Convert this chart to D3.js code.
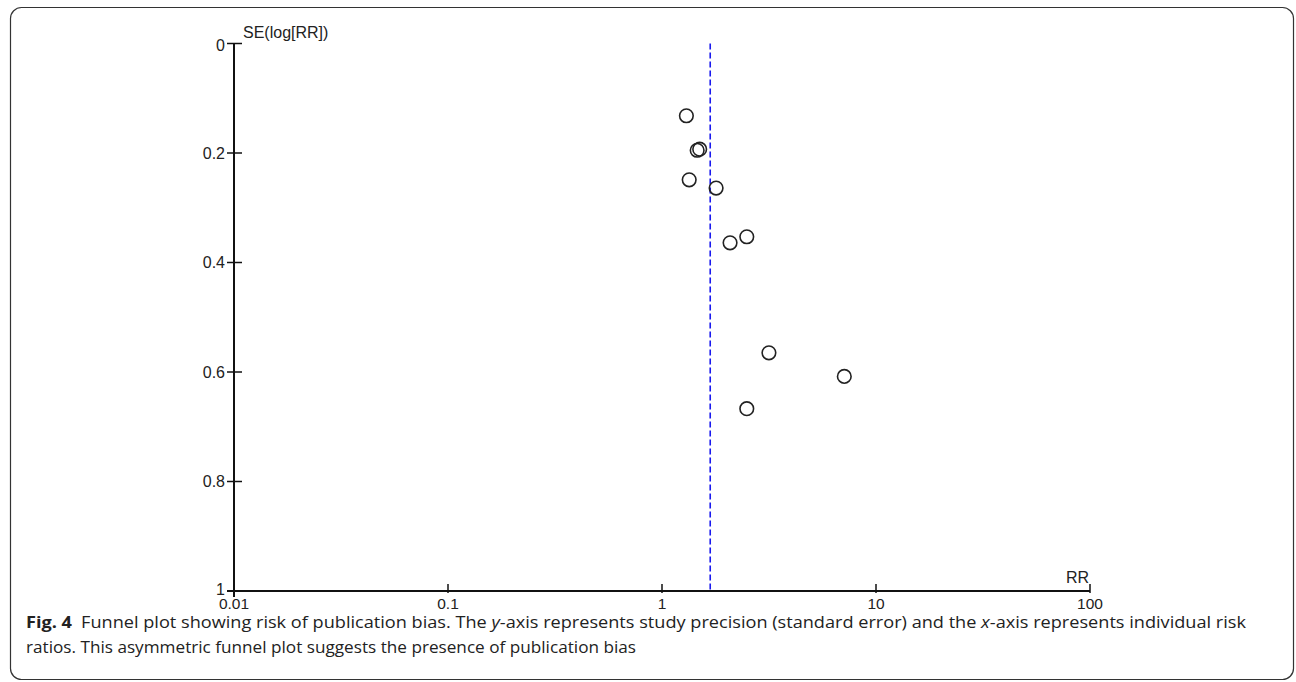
<!DOCTYPE html>
<html>
<head>
<meta charset="utf-8">
<script src="https://cdn.jsdelivr.net/npm/d3@7"></script>
<style>
  body { margin: 0; background: #fff; }
  svg { display: block; }
</style>
</head>
<body>
<svg id="chart" width="1296" height="682"></svg>
<script>
// study estimates
var rrValues = [1.30, 1.46, 1.50, 1.34, 1.79, 2.08, 2.49, 3.16, 7.11, 2.49];
var seValues = [0.132, 0.195, 0.193, 0.249, 0.264, 0.364, 0.353, 0.565, 0.608, 0.667];
var pooledRR = 1.68;

var xTicks = [0.01, 0.1, 1, 10, 100];
var xTickLabels = ["0.01", "0.1", "1", "10", "100"];
var yTicks = [0, 0.2, 0.4, 0.6, 0.8, 1];
var yTickLabels = ["0", "0.2", "0.4", "0.6", "0.8", "1"];

var points = rrValues.map(function(d, i) { return {rr: d, se: seValues[i]}; });

var svg = d3.select("#chart");
var axisFont = "'Liberation Sans', Arial, sans-serif";

var xs = d3.scaleLog().base(10).domain([0.01, 100]).range([234, 1090]);
var ys = d3.scaleLinear().domain([0, 1]).range([43.5, 591]);

// frame around figure + caption
svg.append("rect")
    .attr("x", 10.5).attr("y", 7.5)
    .attr("width", 1283).attr("height", 672)
    .attr("rx", 11).attr("ry", 11)
    .attr("fill", "none")
    .attr("stroke", "#333")
    .attr("stroke-width", 1.2);

var plot = svg.append("g");

// y axis
plot.append("line")
    .attr("x1", xs(0.01)).attr("x2", xs(0.01))
    .attr("y1", ys(0)).attr("y2", ys(1) + 6)
    .attr("stroke", "#111").attr("stroke-width", 2);

plot.selectAll(".ytick")
    .data(yTicks)
    .enter()
    .append("line")
        .attr("x1", xs(0.01) - 7).attr("x2", xs(0.01) + 8)
        .attr("y1", d => ys(d)).attr("y2", d => ys(d))
        .attr("stroke", "#111").attr("stroke-width", 1.5);

// first/last label nudged a little like the original (keeps "1" clear of "0.01")
plot.selectAll(".ylab")
    .data(yTicks)
    .enter()
    .append("text")
        .attr("x", xs(0.01) - 9)
        .attr("y", d => ys(d) + (d == 0 ? 2 : d == 1 ? -2 : 0))
        .attr("dy", "0.36em")
        .attr("text-anchor", "end")
        .style("font-family", axisFont)
        .style("font-size", "16px")
        .attr("fill", "#222")
        .text((d, i) => yTickLabels[i]);

// x axis
plot.append("line")
    .attr("x1", xs(0.01) - 7).attr("x2", xs(100))
    .attr("y1", ys(1)).attr("y2", ys(1))
    .attr("stroke", "#111").attr("stroke-width", 2);

plot.selectAll(".xtick")
    .data(xTicks)
    .enter()
    .append("line")
        .attr("x1", d => xs(d)).attr("x2", d => xs(d))
        .attr("y1", ys(1) - 7).attr("y2", ys(1) + 2)
        .attr("stroke", "#111").attr("stroke-width", 1.5);

plot.selectAll(".xlab")
    .data(xTicks)
    .enter()
    .append("text")
        .attr("x", d => xs(d))
        .attr("y", ys(1) + 18)
        .attr("text-anchor", "middle")
        .style("font-family", axisFont)
        .style("font-size", "15.5px")
        .attr("fill", "#222")
        .text((d, i) => xTickLabels[i]);

// axis titles
plot.append("text")
    .attr("x", xs(0.01) + 9).attr("y", 38)
    .style("font-family", axisFont)
    .style("font-size", "16px")
    .attr("fill", "#222")
    .text("SE(log[RR])");

plot.append("text")
    .attr("x", xs(100) - 1).attr("y", ys(1) - 8)
    .attr("text-anchor", "end")
    .style("font-family", axisFont)
    .style("font-size", "16px")
    .attr("fill", "#222")
    .text("RR");

// pooled estimate
plot.append("line")
    .attr("x1", xs(pooledRR)).attr("x2", xs(pooledRR))
    .attr("y1", ys(0)).attr("y2", ys(1))
    .attr("stroke", "#1a1aee")
    .attr("stroke-width", 1.6)
    .attr("stroke-dasharray", "6,3");

// studies
plot.selectAll("circle")
    .data(points)
    .enter()
    .append("circle")
        .attr("cx", d => xs(d.rr))
        .attr("cy", d => ys(d.se))
        .attr("r", 6.8)
        .attr("fill", "none")
        .attr("stroke", "#222")
        .attr("stroke-width", 1.6);

// caption
var capFont = "'Open Sans', 'Noto Sans', sans-serif";
var line1 = svg.append("text")
    .attr("x", 26).attr("y", 628)
    .style("font-family", capFont)
    .style("font-size", "15.5px")
    .attr("fill", "#222");
line1.append("tspan").style("font-weight", "bold").text("Fig. 4");
line1.append("tspan").text("\u2002Funnel plot showing risk of publication bias. The ");
line1.append("tspan").style("font-style", "italic").text("y");
line1.append("tspan").text("-axis represents study precision (standard error) and the ");
line1.append("tspan").style("font-style", "italic").text("x");
line1.append("tspan").text("-axis represents individual risk");
line1.attr("textLength", 1220).attr("lengthAdjust", "spacingAndGlyphs");

svg.append("text")
    .attr("x", 26).attr("y", 653)
    .style("font-family", capFont)
    .style("font-size", "15.5px")
    .attr("fill", "#222")
    .attr("textLength", 610)
    .attr("lengthAdjust", "spacingAndGlyphs")
    .text("ratios. This asymmetric funnel plot suggests the presence of publication bias");
</script>
</body>
</html>
